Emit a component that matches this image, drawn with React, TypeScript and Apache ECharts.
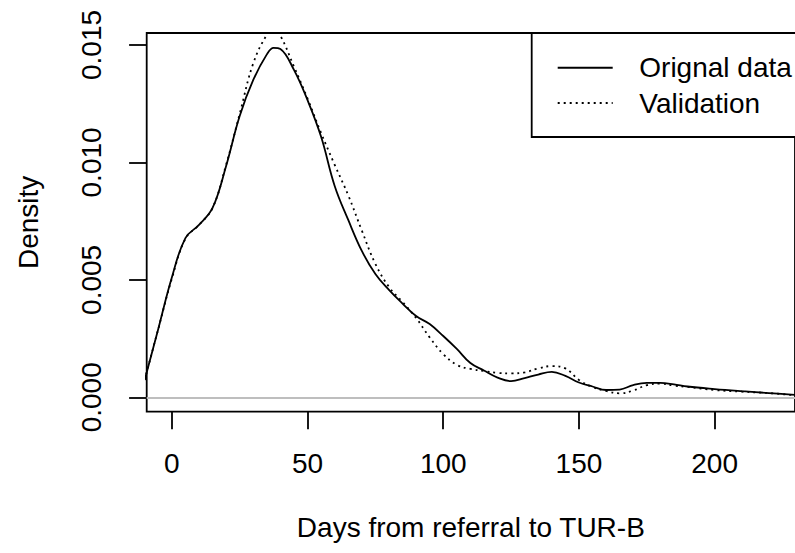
import React, { useEffect, useRef } from "react";
import * as echarts from "echarts";

const xValues = [-10, -5, 0, 5, 10, 15, 20, 25, 30, 35, 37.5, 40, 45, 50, 55, 60, 65, 70, 75, 80, 85, 90, 95, 100, 105, 110, 115, 120, 125, 130, 135, 140, 145, 150, 155, 160, 165, 170, 175, 180, 185, 190, 200, 210, 220, 230];
const originalData = [0.00074, 0.00291, 0.0051, 0.00678, 0.00734, 0.00806, 0.00985, 0.01198, 0.01351, 0.0146, 0.01488, 0.01483, 0.01394, 0.01265, 0.01109, 0.009, 0.00755, 0.00623, 0.00525, 0.00457, 0.00399, 0.00346, 0.00312, 0.00261, 0.00206, 0.00146, 0.00114, 0.00084, 0.00069, 0.00082, 0.00097, 0.00108, 0.00091, 0.00063, 0.00046, 0.00031, 0.00033, 0.00052, 0.00061, 0.00061, 0.00055, 0.00046, 0.00035, 0.00026, 0.00018, 0.0001];
const validationData = [0.00074, 0.00291, 0.00505, 0.00675, 0.00734, 0.00806, 0.0099, 0.01206, 0.01422, 0.01543, 0.01565, 0.01539, 0.01408, 0.01272, 0.01125, 0.0099, 0.0086, 0.0071, 0.00568, 0.0047, 0.00406, 0.00338, 0.00255, 0.00184, 0.00138, 0.00121, 0.00112, 0.00104, 0.00102, 0.00106, 0.00123, 0.00133, 0.00123, 0.00074, 0.00044, 0.00027, 0.00017, 0.00029, 0.00052, 0.00058, 0.0005, 0.00044, 0.00031, 0.00024, 0.00018, 0.00008];
const xTicks = [0, 50, 100, 150, 200];
const yTicks = [0, 0.005, 0.01, 0.015];
const seriesNames = ["Orignal data", "Validation"];
const xTitle = "Days from referral to TUR-B";
const yTitle = "Density";

const FONT = "'Liberation Sans', Arial, sans-serif";

export default function App() {
  const ref = useRef<HTMLDivElement>(null);
  useEffect(() => {
    if (!ref.current) return;
    const chart = echarts.init(ref.current, null, { renderer: "svg" });
    const pairs = (ys: number[]) => xValues.map((x, i) => [x, ys[i]]);
    chart.setOption({
      animation: false,
      backgroundColor: "#ffffff",
      grid: {
        left: 146.7,
        top: 33,
        width: 660.3,
        height: 378.7,
        show: true,
        borderColor: "#000",
        borderWidth: 1.8,
        backgroundColor: "transparent",
      },
      legend: {
        data: seriesNames,
        orient: "vertical",
        left: 531.7,
        top: 33,
        padding: [20.7, 18.4, 20, 25],
        itemGap: 7.3,
        itemWidth: 55,
        itemHeight: 14,
        borderColor: "#000",
        borderWidth: 1.8,
        backgroundColor: "#fff",
        align: "left",
        itemStyle: { opacity: 0 },
        textStyle: {
          fontFamily: FONT,
          fontSize: 28,
          lineHeight: 28,
          color: "#000",
          padding: [0, 0, 0, 21.6],
        },
      },
      xAxis: {
        type: "value",
        min: -9.26,
        max: 229.6,
        axisLine: { show: false, onZero: false },
        splitLine: { show: false },
        axisTick: {
          show: true,
          inside: false,
          length: 17.6,
          customValues: xTicks,
          lineStyle: { color: "#000", width: 1.8 },
        },
        axisLabel: {
          customValues: xTicks,
          fontFamily: FONT,
          fontSize: 28,
          lineHeight: 28,
          color: "#000",
          margin: 38,
        },
        name: xTitle,
        nameLocation: "middle",
        nameGap: 102,
        nameTextStyle: { fontFamily: FONT, fontSize: 28, lineHeight: 28, color: "#000" },
      },
      yAxis: {
        type: "value",
        min: -0.000613,
        max: 0.01551,
        axisLine: { show: false, onZero: false },
        splitLine: { show: false },
        axisTick: {
          show: true,
          inside: false,
          length: 17.6,
          customValues: yTicks,
          lineStyle: { color: "#000", width: 1.8 },
        },
        axisLabel: {
          customValues: yTicks,
          rotate: 90,
          formatter: (v: number) => v.toFixed(3),
          fontFamily: FONT,
          fontSize: 28,
          lineHeight: 28,
          color: "#000",
          margin: 41.7,
        },
        name: yTitle,
        nameLocation: "middle",
        nameRotate: 90,
        nameGap: 104,
        nameTextStyle: { fontFamily: FONT, fontSize: 28, lineHeight: 28, color: "#000" },
      },
      series: [
        {
          name: seriesNames[0],
          type: "line",
          data: pairs(originalData),
          symbol: "none",
          smooth: 0.4,
          lineStyle: { color: "#000", width: 1.8, type: "solid" },
          itemStyle: { color: "#000" },
          markLine: {
            silent: true,
            symbol: "none",
            label: { show: false },
            lineStyle: { color: "#bebebe", width: 1.8, type: "solid" },
            data: [{ yAxis: 0 }],
          },
          z: 3,
        },
        {
          name: seriesNames[1],
          type: "line",
          data: pairs(validationData),
          symbol: "none",
          smooth: 0.4,
          lineStyle: { color: "#000", width: 1.8, type: [2, 4] },
          itemStyle: { color: "#000" },
          z: 3,
        },
      ],
    });
    return () => chart.dispose();
  }, []);
  return (
    <div
      ref={ref}
      style={{ position: "absolute", left: 0, top: 0, width: 795, height: 553 }}
    />
  );
}
